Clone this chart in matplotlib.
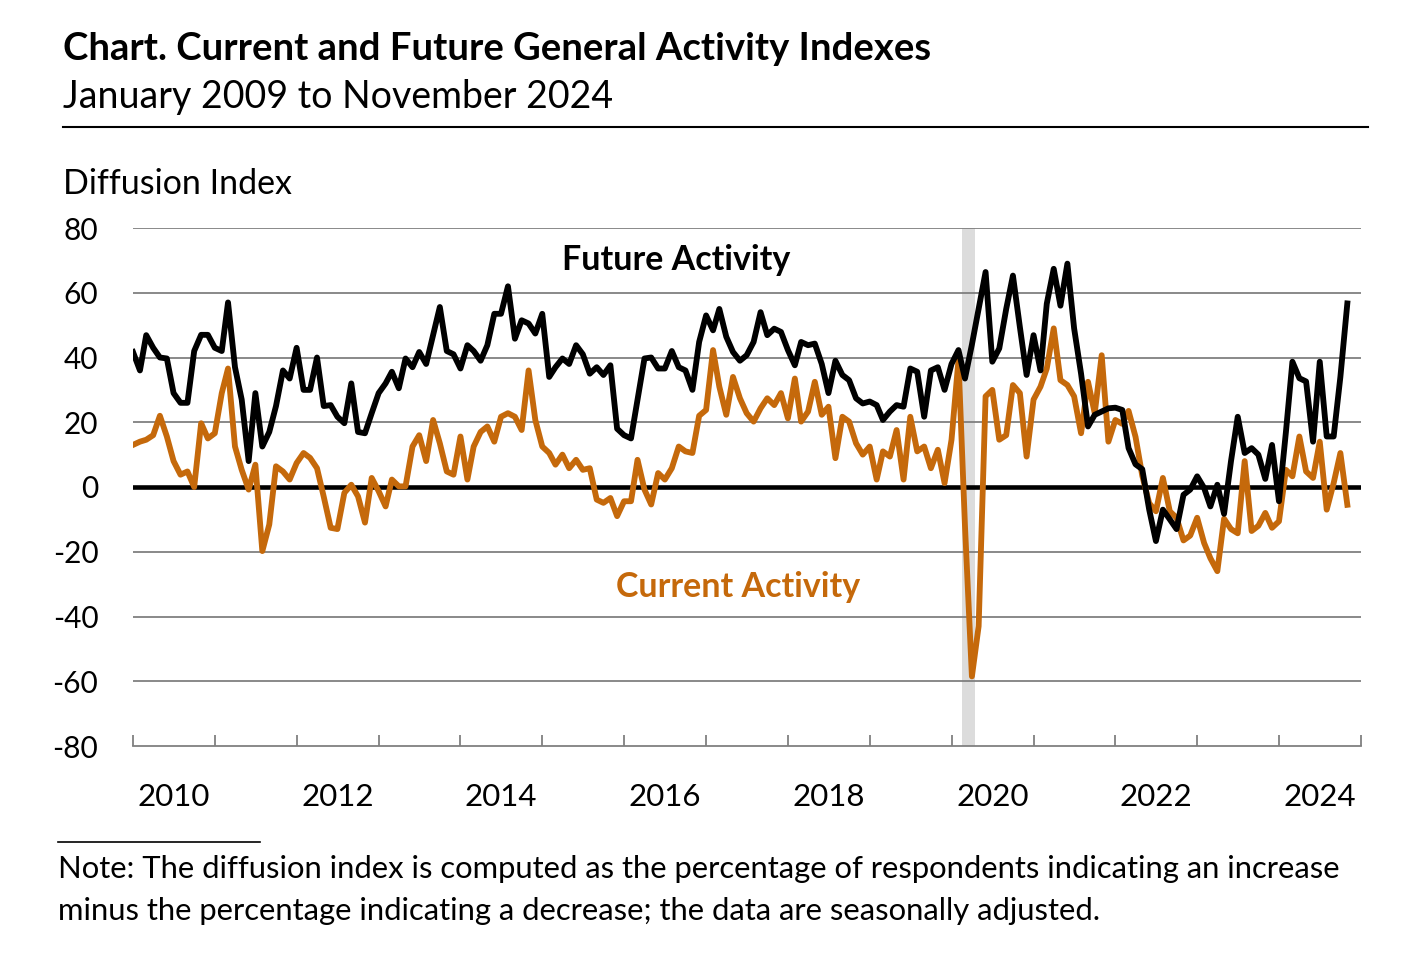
import pandas as pd
import matplotlib.pyplot as plt
import matplotlib.dates as mdates

plt.rcParams['font.family'] = ['Lato', 'DejaVu Sans']

# monthly values, Jan 2010 - Nov 2024 (12 per row = one year)
future_activity = [
    41.7, 36, 46.9, 43, 40, 39.7, 29, 26, 26, 42, 47, 47,
    43, 42, 57, 37, 27, 8, 29, 12.5, 17, 25, 36, 33.5,
    43, 30, 30, 40, 25, 25.3, 21.7, 19.7, 32, 17, 16.6, 22.8,
    29, 32, 35.6, 30.5, 39.7, 37, 41.7, 38, 47, 55.6, 42, 41,
    36.6, 43.8, 42, 39, 43.8, 53.5, 53.5, 62, 45.8, 51.5, 50.5, 47.4,
    53.5, 34, 37, 39.7, 38, 43.8, 41, 35, 37, 34.6, 37.6, 18,
    16, 15, 27, 39.7, 40, 36.6, 36.6, 42, 37, 36, 30, 44.8,
    53, 48.4, 55, 46.4, 41.7, 39, 40.7, 44.8, 54, 46.9, 48.9, 47.9,
    42.3, 37.6, 44.8, 43.8, 44.3, 38, 29, 39, 34.6, 33, 27.4, 25.8,
    26.4, 25.3, 20.7, 23.3, 25.3, 24.8, 36.6, 35.6, 21.7, 36, 37, 30,
    38, 42.3, 33.5, 44, 55, 66.4, 38.7, 42.8, 55, 65.3, 49.4, 34.6,
    46.9, 36, 56.6, 67.4, 56, 69, 49, 35, 18.7, 22.3, 23.3, 24.3,
    24.5, 23.8, 12, 7, 5.5, -7, -16.7, -7, -10, -13, -2.4, -0.8,
    3.3, -0.3, -6, 0.7, -8.3, 8, 21.7, 10.5, 12, 10, 2.5, 13,
    -4.4, 17, 38.7, 33.6, 32.6, 14, 38.7, 15.6, 15.6, 34, 56.7,
]

current_activity = [
    13, 14, 14.6, 16, 22, 15.6, 8, 3.8, 4.8, 0, 19.7, 15,
    16.6, 29, 36.6, 12.5, 5.3, -0.8, 6.9, -19.8, -11.6, 6.4, 4.8, 2.3,
    7.4, 10.5, 9, 5.8, -3, -12.6, -13, -1.8, 0.7, -2.9, -11, 2.8,
    -1.3, -6, 2.3, 0.2, 0.2, 12.5, 16, 8, 20.7, 13.5, 4.8, 3.8,
    15.6, 2.3, 12.5, 17, 18.7, 14, 21.7, 22.8, 21.7, 17.6, 36, 20.7,
    12.5, 10.5, 6.9, 10, 5.8, 8.4, 5.3, 5.8, -3.9, -4.9, -3.4, -9,
    -4.4, -4.4, 8.4, -0.8, -5.4, 4.3, 2.3, 5.8, 12.5, 11, 10.5, 22,
    23.8, 42.3, 31, 22.3, 34, 27.4, 22.8, 20.2, 24.3, 27.4, 25.3, 29,
    21.2, 33.5, 20.2, 23.3, 32.5, 22.3, 24.8, 8.9, 21.7, 20.2, 13.5, 10,
    12.5, 2.3, 11, 9.4, 17.6, 2.3, 21.7, 11, 12.5, 5.8, 11.5, 1.2,
    14.6, 39.2, -12, -58.5, -43, 28, 30, 14.6, 16, 31.5, 29, 9.4,
    27, 31, 36.6, 49, 33, 31.5, 28, 16.6, 32.5, 22.8, 40.7, 14,
    20.7, 19.5, 23.5, 15.5, 3.5, -5, -7.5, 2.8, -7.5, -9.5, -16.5, -15,
    -9.5, -17.3, -22, -26, -9.8, -13, -14.3, 8, -13.6, -12, -8, -12.6,
    -10.6, 5.3, 3.3, 15.6, 4.8, 2.8, 14, -7, 1.2, 10.5, -5.5,
]

months = pd.date_range('2010-01-01', periods=len(future_activity), freq='MS')
year_labels = ['2010', '2012', '2014', '2016', '2018', '2020', '2022', '2024']
recession = ('2020-02-15', '2020-04-15')

orange = '#C5690B'
grid_grey = '#808080'

fig = plt.figure(figsize=(14.04, 9.56), dpi=100)
ax = fig.add_axes([133/1404, 1 - 746/956, 1228/1404, 518/956])

ax.axvspan(pd.Timestamp(recession[0]), pd.Timestamp(recession[1]), color='#DCDCDC', lw=0, zorder=0)
for yv in range(-60, 81, 20):
    ax.axhline(yv, color=grid_grey, lw=1.3, zorder=1)
ax.axhline(0, color='black', lw=3.3, zorder=2)

ax.plot(months, current_activity, color=orange, lw=4.2, zorder=3)
ax.plot(months, future_activity, color='black', lw=4.2, zorder=4)

ax.set_xlim(pd.Timestamp('2010-01-01'), pd.Timestamp('2025-01-01'))
ax.set_ylim(-80, 80)
ax.set_yticks(range(-80, 81, 20))
ax.set_yticklabels([str(v) for v in range(-80, 81, 20)], fontsize=21.5)

ax.xaxis.set_major_locator(mdates.YearLocator(1))
ax.xaxis.set_major_formatter(plt.NullFormatter())
ax.set_xticks([pd.Timestamp(y + '-07-01') for y in year_labels], minor=True)
ax.set_xticklabels(year_labels, minor=True, fontsize=22.5)
ax.tick_params(axis='x', which='major', direction='in', length=8, color=grid_grey, width=1.3)
ax.tick_params(axis='x', which='minor', length=0, pad=27)
ax.tick_params(axis='y', length=0, pad=25)

for s in ['top', 'right', 'left']:
    ax.spines[s].set_visible(False)
ax.spines['bottom'].set_color(grid_grey)
ax.spines['bottom'].set_linewidth(1.3)

ax.text(pd.Timestamp('2016-08-20'), 70, 'Future Activity', fontsize=24.5, fontweight='bold',
        ha='center', va='center', color='black')
ax.text(pd.Timestamp('2017-05-25'), -31, 'Current Activity', fontsize=24.5, fontweight='bold',
        ha='center', va='center', color=orange)

fig.text(63/1404, 1 - 60/956, 'Chart. Current and Future General Activity Indexes',
         fontsize=27.5, fontweight='bold', va='baseline')
fig.text(63/1404, 1 - 108/956, 'January 2009 to November 2024', fontsize=27, va='baseline')
fig.add_artist(plt.Line2D([63/1404, 1368/1404], [1 - 127/956, 1 - 127/956], color='black', lw=1.5))
fig.text(63/1404, 1 - 194/956, 'Diffusion Index', fontsize=24.5, va='baseline')

fig.add_artist(plt.Line2D([58/1404, 260/1404], [1 - 842/956, 1 - 842/956], color='black', lw=1.2))
fig.text(58/1404, 1 - 878/956,
         'Note: The diffusion index is computed as the percentage of respondents indicating an increase',
         fontsize=22.3, va='baseline')
fig.text(58/1404, 1 - 920/956,
         'minus the percentage indicating a decrease; the data are seasonally adjusted.',
         fontsize=22.3, va='baseline')

plt.savefig('out.png', dpi=100)
